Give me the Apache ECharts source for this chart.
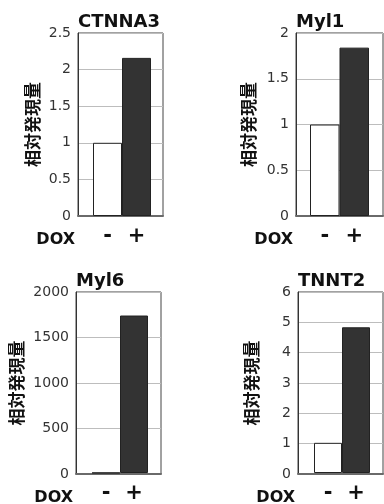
<!DOCTYPE html>
<html>
<head>
<meta charset="utf-8">
<script src="https://cdn.jsdelivr.net/npm/echarts@6/dist/echarts.min.js"></script>
<style>html,body{margin:0;padding:0;background:#fff}#c{width:384px;height:504px}</style>
</head>
<body>
<div id="c"></div>
<script>
const panelTitles = ['CTNNA3', 'Myl1', 'Myl6', 'TNNT2'];
const categories = ['-', '+'];
const ctnna3Values = [1, 2.16];
const myl1Values = [1, 1.84];
const myl6Values = [2, 1740];
const tnnt2Values = [1, 4.83];
const yMaxes = [2.5, 2, 2000, 6];
const yIntervals = [0.5, 0.5, 500, 1];
const yAxisTitle = '相対発現量';
const xAxisTitle = 'DOX';

const seriesValues = [ctnna3Values, myl1Values, myl6Values, tnnt2Values];

const layout = [
  {box: [78, 33, 85, 183], bars: [93, 58], gap: 37},
  {box: [296, 33, 87, 183], bars: [310, 59], gap: 39},
  {box: [76, 292, 85, 182], bars: [92, 56], gap: 51},
  {box: [298, 292, 85, 182], bars: [314, 56], gap: 38}
];

const grids = [], xAxes = [], yAxes = [], series = [], titles = [];
layout.forEach((L, i) => {
  const [bl, bt, bw, bh] = L.box;
  grids.push({left: bl, top: bt, width: bw, height: bh, show: true, borderColor: '#444', borderWidth: 1, backgroundColor: 'transparent'});
  grids.push({left: L.bars[0], top: bt, width: L.bars[1], height: bh});
  const gb = 2 * i, gbar = 2 * i + 1;
  xAxes.push({gridIndex: gb, type: 'value', min: 0, max: 1, axisLabel: {show: false}, axisTick: {show: false}, splitLine: {show: false},
    axisLine: {show: true, lineStyle: {color: '#6a6a6a', width: 2}}});
  yAxes.push({gridIndex: gb, type: 'value', min: 0, max: yMaxes[i], interval: yIntervals[i],
    axisLine: {show: true, lineStyle: {color: '#333', width: 1}}, axisTick: {show: false},
    axisLabel: {color: '#333', fontSize: 14, fontFamily: 'DejaVu Sans', margin: 7, formatter: v => String(v)},
    splitLine: {show: true, lineStyle: {color: '#bdbdbd', width: 1}},
    name: yAxisTitle, nameLocation: 'middle', nameRotate: 90, nameGap: L.gap,
    nameTextStyle: {color: '#111', fontSize: 17, fontWeight: 'bold', fontFamily: 'Noto Sans CJK JP'}});
  xAxes.push({gridIndex: gbar, type: 'category', data: categories, axisLine: {show: false}, axisTick: {show: false},
    axisLabel: {color: '#111', fontSize: 21, fontWeight: 'bold', fontFamily: 'DejaVu Sans', margin: 10}});
  yAxes.push({gridIndex: gbar, type: 'value', min: 0, max: yMaxes[i], show: false});
  series.push({type: 'bar', xAxisIndex: 2 * i + 1, yAxisIndex: 2 * i + 1, barCategoryGap: '0%', z: 3,
    data: seriesValues[i].map((v, k) => ({value: v, itemStyle: k === 0
      ? {color: '#ffffff', borderColor: '#222', borderWidth: 1}
      : {color: '#333333', borderColor: '#222', borderWidth: 1}}))});
  titles.push({text: panelTitles[i], left: bl, top: bt - 20,
    textStyle: {color: '#111', fontSize: 18, fontWeight: 'bold', fontFamily: 'DejaVu Sans'}, padding: 0});
  titles.push({text: xAxisTitle, right: 384 - bl + 3, top: bt + bh + 16,
    textStyle: {color: '#111', fontSize: 16, fontWeight: 'bold', fontFamily: 'DejaVu Sans'}, padding: 0});
});

const chart = echarts.init(document.getElementById('c'), null, {renderer: 'canvas'});
chart.setOption({animation: false, backgroundColor: '#fff', title: titles, grid: grids, xAxis: xAxes, yAxis: yAxes, series: series});
</script>
</body>
</html>
